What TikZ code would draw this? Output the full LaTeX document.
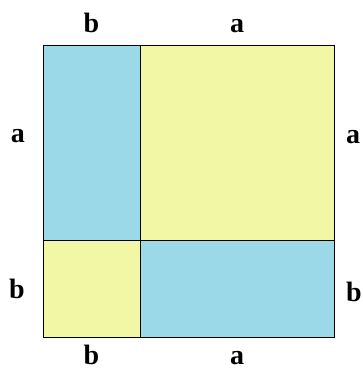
\documentclass[tikz,border=0pt]{standalone}
\usepackage{fontspec}
\setmainfont{Liberation Serif}
\usetikzlibrary{positioning}
\definecolor{sqblue}{RGB}{155,216,232}
\definecolor{sqyellow}{RGB}{242,247,166}

\begin{document}
\begin{tikzpicture}[x=1pt, y=1pt,
    part/.style={draw=black, line width=1pt, outer sep=0pt, inner sep=0pt},
    side/.style={font=\fontsize{28}{28}\selectfont\bfseries, inner sep=0pt,
                 text height=19pt, text depth=0pt}]
    \useasboundingbox (0,0) rectangle (362,369);
    \node[part, fill=sqblue, minimum width=97pt, minimum height=195pt,
          anchor=north west] (ba) at (43,323) {};
    \node[part, fill=sqyellow, minimum width=194pt, minimum height=195pt,
          right=0pt of ba] (aa) {};
    \node[part, fill=sqyellow, minimum width=97pt, minimum height=97pt,
          below=0pt of ba] (bb) {};
    \node[part, fill=sqblue, minimum width=194pt, minimum height=97pt,
          below=0pt of aa] (ab) {};
    \node[side, above=13pt of ba] (topb) {b};
    \node[side, above=13pt of aa] (topa) {a};
    \node[side, below=7pt of bb] (botb) {b};
    \node[side, below=7pt of ab] (bota) {a};
    \node[side, left=18pt of ba, yshift=10pt] (lefta) {a};
    \node[side, left=18pt of bb] (leftb) {b};
    \node[side, right=12pt of aa, yshift=9pt] (righta) {a};
    \node[side, right=12pt of ab, yshift=-3pt] (rightb) {b};
  \end{tikzpicture}
\end{document}
